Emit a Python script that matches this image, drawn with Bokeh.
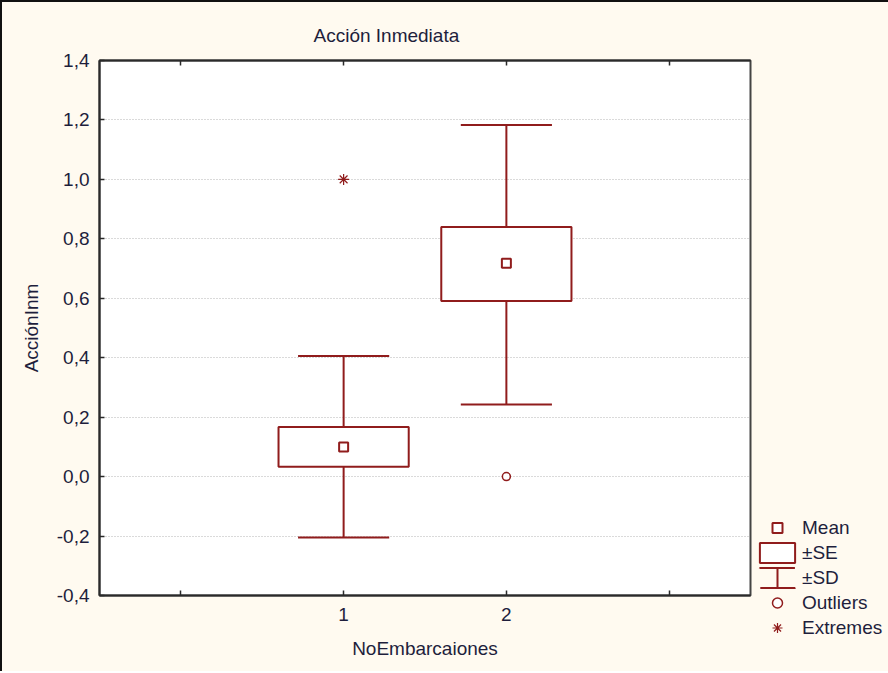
from bokeh.plotting import figure
from bokeh.models import Range1d, FixedTicker, LinearAxis, Legend, LegendItem
from bokeh.layouts import row
from bokeh.embed import file_html
from bokeh.resources import INLINE

# ---- data ----
groups = [1, 2]
means = [0.100, 0.718]
se_low = [0.033, 0.591]
se_high = [0.167, 0.840]
sd_low = [-0.205, 0.243]
sd_high = [0.406, 1.183]
outlier_x = [2]
outlier_y = [0.0]
extreme_x = [1]
extreme_y = [1.0]
x_label_ticks = [1, 2]
x_tick_labels = ["1", "2"]
x_plain_ticks = [0, 3]
y_ticks = [-0.4, -0.2, 0.0, 0.2, 0.4, 0.6, 0.8, 1.0, 1.2, 1.4]
y_tick_labels = ["-0,4", "-0,2", "0,0", "0,2", "0,4", "0,6", "0,8", "1,0", "1,2", "1,4"]
legend_labels = ["Mean", "±SE", "±SD", "Outliers", "Extremes"]

title_text = "Acción Inmediata"
x_label = "NoEmbarcaiones"
y_label = "AcciónInm"

# ---- style ----
RED = "#901c1c"
TXT = "#1e1e3c"
BG = "#fffaf0"
AX = "#2a2a2a"
FONT = "Liberation Sans"
FS = "19px"
BOX_W = 0.8
CAP_W = 0.56

FRAME_W, FRAME_H = 651, 535
BL, BR, BT, BB = 97, 138, 58, 76
p = figure(frame_width=FRAME_W, frame_height=FRAME_H, output_backend="svg",
           toolbar_location=None,
           x_range=Range1d(-0.5, 3.5), y_range=Range1d(-0.4, 1.4),
           min_border_left=BL, min_border_right=BR, min_border_top=BT, min_border_bottom=BB,
           background_fill_color="white", border_fill_color=BG)
p.outline_line_color = "#444444"
p.outline_line_width = 2

p.title.text = title_text
p.title.align = "left"
p.title.offset = 214
p.title.standoff = 30
p.title.text_font = FONT
p.title.text_font_size = FS
p.title.text_font_style = "normal"
p.title.text_color = TXT

# axes
xa = p.xaxis[0]
xa.ticker = FixedTicker(ticks=x_label_ticks, minor_ticks=x_plain_ticks)
xa.major_label_overrides = {t: l for t, l in zip(x_label_ticks, x_tick_labels)}
ya = p.yaxis[0]
ya.ticker = FixedTicker(ticks=y_ticks, minor_ticks=[])
ya.major_label_overrides = {t: l for t, l in zip(y_ticks, y_tick_labels)}
for ax in (xa, ya):
    ax.axis_line_color = AX
    ax.axis_line_width = 2
    ax.major_tick_in = 5
    ax.major_tick_out = 0
    ax.major_tick_line_color = AX
    ax.major_tick_line_width = 1.5
    ax.minor_tick_in = 5
    ax.minor_tick_out = 0
    ax.minor_tick_line_color = AX
    ax.minor_tick_line_width = 1.5
    ax.major_label_text_font = FONT
    ax.major_label_text_font_size = FS
    ax.major_label_text_color = TXT
    ax.axis_label_text_font = FONT
    ax.axis_label_text_font_size = FS
    ax.axis_label_text_font_style = "normal"
    ax.axis_label_text_color = TXT
xa.axis_label = x_label
ya.axis_label = y_label
xa.major_label_standoff = 12
xa.axis_label_standoff = 14
ya.major_label_standoff = 10
ya.axis_label_standoff = 12

top = LinearAxis(ticker=FixedTicker(ticks=[], minor_ticks=x_plain_ticks[:1] + x_label_ticks + x_plain_ticks[1:]),
                 major_tick_line_color=None,
                 minor_tick_in=5, minor_tick_out=0, minor_tick_line_color=AX,
                 minor_tick_line_width=1.5,
                 axis_line_color=AX, axis_line_width=2)
p.add_layout(top, "above")

p.xgrid.visible = False
p.ygrid.ticker = FixedTicker(ticks=y_ticks)
p.ygrid.grid_line_color = "#b4b4b4"
p.ygrid.grid_line_dash = "1 2"
p.ygrid.grid_line_width = 1

# whiskers (SD)
p.segment(x0=groups, y0=se_high, x1=groups, y1=sd_high, line_color=RED, line_width=2)
p.segment(x0=groups, y0=se_low, x1=groups, y1=sd_low, line_color=RED, line_width=2)
p.segment(x0=[g - CAP_W / 2 for g in groups], y0=sd_high,
          x1=[g + CAP_W / 2 for g in groups], y1=sd_high, line_color=RED, line_width=2)
p.segment(x0=[g - CAP_W / 2 for g in groups], y0=sd_low,
          x1=[g + CAP_W / 2 for g in groups], y1=sd_low, line_color=RED, line_width=2)
# boxes (SE)
se_r = p.quad(left=[g - BOX_W / 2 for g in groups], right=[g + BOX_W / 2 for g in groups],
              bottom=se_low, top=se_high, fill_color="white", line_color=RED, line_width=2)
# mean
mean_r = p.scatter(groups, means, marker="square", size=9, fill_color="white",
                   line_color=RED, line_width=2)
# outliers / extremes
out_r = p.scatter(outlier_x, outlier_y, marker="circle", size=8, fill_color="white",
                  line_color=RED, line_width=1.5)
ext_r = p.scatter(extreme_x, extreme_y, marker="asterisk", size=11,
                  line_color=RED, line_width=1.2)

# legend-only key pieces for the "±SD" whisker symbol (placed off the visible range)
GW, GH = 44, 25
cap_w = int(GW * 0.8)
cap_h = int(GH * 0.8)
sd_caps = p.quad(left=[-9], right=[-8], bottom=[-9], top=[-8], fill_color=None,
                 line_color=RED, line_width=2, line_dash=f"{cap_w} {cap_h}")
sd_stem = p.ellipse(x=[-9], y=[-9], width=0.001, height=cap_h, width_units="screen",
                    height_units="screen", fill_color=None, line_color=RED, line_width=2)
# invisible spacer rows that push the key down to the lower right corner
blank_r = p.scatter([-9], [-9], marker="circle", size=1, fill_alpha=0, line_alpha=0)
N_SPACER = 18

items = [LegendItem(label=" ", renderers=[blank_r]) for _ in range(N_SPACER)]
items += [
    LegendItem(label=legend_labels[0], renderers=[mean_r]),
    LegendItem(label=legend_labels[1], renderers=[se_r]),
    LegendItem(label=legend_labels[2], renderers=[sd_caps, sd_stem]),
    LegendItem(label=legend_labels[3], renderers=[out_r]),
    LegendItem(label=legend_labels[4], renderers=[ext_r]),
]
legend = Legend(items=items, location="top_left", orientation="vertical",
                glyph_width=GW, glyph_height=GH, spacing=0, padding=0, margin=5,
                label_standoff=3, label_text_font=FONT, label_text_font_size=FS,
                label_text_color=TXT, label_height=GH,
                background_fill_alpha=0.0, border_line_color=None)
p.add_layout(legend, "right")

layout = row(p, styles={"border-left": "2px solid #111", "border-top": "2px solid #111",
                        "background-color": BG})

open("out.html", "w").write(file_html(layout, INLINE))
